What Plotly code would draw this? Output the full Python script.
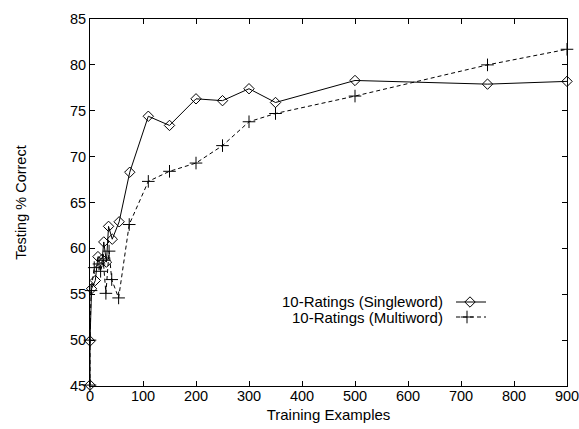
import plotly.graph_objects as go

# Data
x_single = [0, 0, 3, 10, 15, 23, 26, 31, 35, 42, 55, 75, 110, 150, 200, 250, 300, 350, 500, 750, 900]
y_single = [45.1, 49.9, 55.6, 56.5, 59.1, 58.8, 60.7, 58.5, 62.4, 61.0, 62.9, 68.3, 74.4, 73.4, 76.3, 76.1, 77.4, 75.9, 78.3, 77.9, 78.2]

x_multi = [0, 0, 2, 8, 17, 20, 25, 30, 36, 41, 54, 74, 110, 150, 200, 250, 300, 350, 500, 750, 900]
y_multi = [45.1, 50.0, 55.4, 57.9, 58.3, 57.5, 58.7, 55.1, 59.7, 56.6, 54.6, 62.6, 67.3, 68.4, 69.3, 71.2, 73.8, 74.7, 76.6, 80.0, 81.7]

series_names = ["10-Ratings (Singleword)", "10-Ratings (Multiword)"]
x_ticks = [0, 100, 200, 300, 400, 500, 600, 700, 800, 900]
y_ticks = [45, 50, 55, 60, 65, 70, 75, 80, 85]

FONT = "Liberation Sans, Arial, sans-serif"

fig = go.Figure()

fig.add_trace(go.Scatter(
    x=x_single, y=y_single, mode="lines+markers", name=series_names[0],
    line=dict(color="black", width=1),
    marker=dict(symbol="diamond-open", size=8, color="black", line=dict(width=1, color="black")),
    showlegend=False, cliponaxis=False,
))
fig.add_trace(go.Scatter(
    x=x_multi, y=y_multi, mode="lines+markers", name=series_names[1],
    line=dict(color="black", width=1, dash="4px,3px"),
    marker=dict(symbol="cross-thin-open", size=9, color="black", line=dict(width=1, color="black")),
    showlegend=False, cliponaxis=False,
))

# Legend samples drawn on an overlay axis in pixel-like coordinates
fig.add_trace(go.Scatter(
    x=[456, 471, 486], y=[302, 302, 302], mode="lines", xaxis="x2", yaxis="y2",
    line=dict(color="black", width=1), showlegend=False, hoverinfo="skip",
))
fig.add_trace(go.Scatter(
    x=[470], y=[302], mode="markers", xaxis="x2", yaxis="y2",
    marker=dict(symbol="diamond-open", size=8, color="black", line=dict(width=1, color="black")),
    showlegend=False, hoverinfo="skip",
))
fig.add_trace(go.Scatter(
    x=[456, 486], y=[317, 317], mode="lines", xaxis="x2", yaxis="y2",
    line=dict(color="black", width=1, dash="4px,3px"), showlegend=False, hoverinfo="skip",
))
fig.add_trace(go.Scatter(
    x=[467], y=[317], mode="markers", xaxis="x2", yaxis="y2",
    marker=dict(symbol="cross-thin-open", size=9, color="black", line=dict(width=1, color="black")),
    showlegend=False, hoverinfo="skip",
))

legend_text = "<br>".join('<span style="font-size:15px">%s</span>' % n for n in series_names)
fig.add_annotation(x=444, y=309.5, xref="x2", yref="y2", text=legend_text, showarrow=False,
                   xanchor="right", yanchor="middle", align="right", borderpad=0,
                   font=dict(family=FONT, size=12, color="black"))

axis_common = dict(
    showline=True, linecolor="black", linewidth=1, mirror="allticks",
    ticks="inside", ticklen=5, tickcolor="black", tickwidth=1,
    showgrid=False, zeroline=False, automargin=False,
    ticklabeloverflow="allow",
    tickfont=dict(family=FONT, size=14.5, color="black"),
)

fig.update_layout(
    width=579, height=429,
    margin=dict(l=90, r=12, t=19, b=43),
    paper_bgcolor="white", plot_bgcolor="white",
    xaxis=dict(range=[0, 900], tickvals=x_ticks, ticktext=[str(v) for v in x_ticks],
               ticklabelstandoff=-3,
               title=dict(text="Training Examples", font=dict(family=FONT, size=15, color="black"), standoff=6),
               **axis_common),
    yaxis=dict(range=[45, 85], tickvals=y_ticks, ticktext=[str(v) for v in y_ticks],
               title=dict(text="Testing % Correct", font=dict(family=FONT, size=14.5, color="black"), standoff=39),
               **axis_common),
    xaxis2=dict(range=[90, 567], overlaying="x", visible=False, fixedrange=True),
    yaxis2=dict(range=[386, 19], overlaying="y", visible=False, fixedrange=True),
    showlegend=False,
)

fig.write_html("out.html")
